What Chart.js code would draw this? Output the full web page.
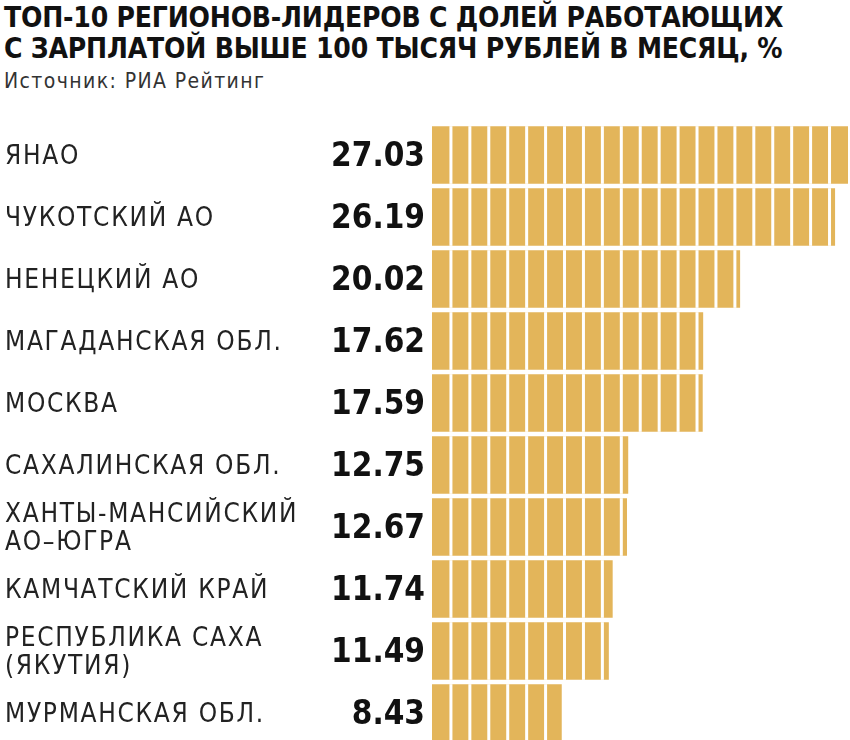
<!DOCTYPE html>
<html><head><meta charset="utf-8">
<script src="https://cdn.jsdelivr.net/npm/chart.js@4"></script>
<style>
body{margin:0;background:#fff;font-family:'DejaVu Sans Condensed','Liberation Sans Narrow',sans-serif;}
#title{position:absolute;left:4px;top:2px;font-weight:bold;font-size:28px;line-height:31px;color:#111;letter-spacing:-0.2px}
#src{position:absolute;left:4px;top:69px;font-size:21px;color:#333;letter-spacing:1.4px}
#wrap{position:absolute;left:0;top:124px;width:850px;height:620px}
</style></head><body>
<div id="title">ТОП-10 РЕГИОНОВ-ЛИДЕРОВ С ДОЛЕЙ РАБОТАЮЩИХ<br>С ЗАРПЛАТОЙ ВЫШЕ 100 ТЫСЯЧ РУБЛЕЙ В МЕСЯЦ, %</div>
<div id="src">Источник: РИА Рейтинг</div>
<div id="wrap"><canvas id="c"></canvas></div>
<script>
const regions = [['ЯНАО'],['ЧУКОТСКИЙ АО'],['НЕНЕЦКИЙ АО'],['МАГАДАНСКАЯ ОБЛ.'],['МОСКВА'],['САХАЛИНСКАЯ ОБЛ.'],['ХАНТЫ-МАНСИЙСКИЙ','АО–ЮГРА'],['КАМЧАТСКИЙ КРАЙ'],['РЕСПУБЛИКА САХА','(ЯКУТИЯ)'],['МУРМАНСКАЯ ОБЛ.']]
const shares = [27.03, 26.19, 20.02, 17.62, 17.59, 12.75, 12.67, 11.74, 11.49, 8.43]
const segStep = 1.23

// подписи слева и белые разрезы на столбиках
const decor = {
    id: 'decor',
    afterDatasetsDraw(chart) {
        const ctx = chart.ctx
        const x = chart.scales.x
        const meta = chart.getDatasetMeta(0)
        ctx.save()
        meta.data.forEach((bar, i) => {
            const top = bar.y - bar.height / 2
            ctx.fillStyle = '#fff'
            for (let v = segStep; v < shares[i]; v += segStep) {
                ctx.fillRect(x.getPixelForValue(v) - 1.5, top, 3, bar.height)
            }
            ctx.fillStyle = '#222'
            ctx.font = '26px "DejaVu Sans Condensed", sans-serif'
            ctx.letterSpacing = '1.7px'
            ctx.textAlign = 'left'
            ctx.textBaseline = 'middle'
            const lines = regions[i]
            lines.forEach((t, k) => {
                ctx.fillText(t, 5, bar.y + (k - (lines.length - 1) / 2) * 28 + 2)
            })
            ctx.letterSpacing = '0px'
            ctx.font = 'bold 33px "DejaVu Sans Condensed", sans-serif'
            ctx.textAlign = 'right'
            ctx.fillStyle = '#111'
            ctx.fillText(shares[i].toFixed(2), 425, bar.y + 2)
        })
        ctx.restore()
    }
}

new Chart(document.getElementById('c'), {
    type: 'bar',
    data: {
        labels: regions.map(r => r.join(' ')),
        datasets: [{ data: shares, backgroundColor: '#e3b55a', categoryPercentage: 0.93, barPercentage: 1 }]
    },
    options: {
        indexAxis: 'y',
        responsive: true,
        maintainAspectRatio: false,
        animation: false,
        layout: { padding: { left: 432, right: 2, top: 0, bottom: 0 } },
        scales: {
            x: { display: false, min: 0, max: 27.03 },
            y: { display: false }
        },
        plugins: { legend: { display: false }, tooltip: { enabled: false } }
    },
    plugins: [decor]
});
</script>
</body></html>
